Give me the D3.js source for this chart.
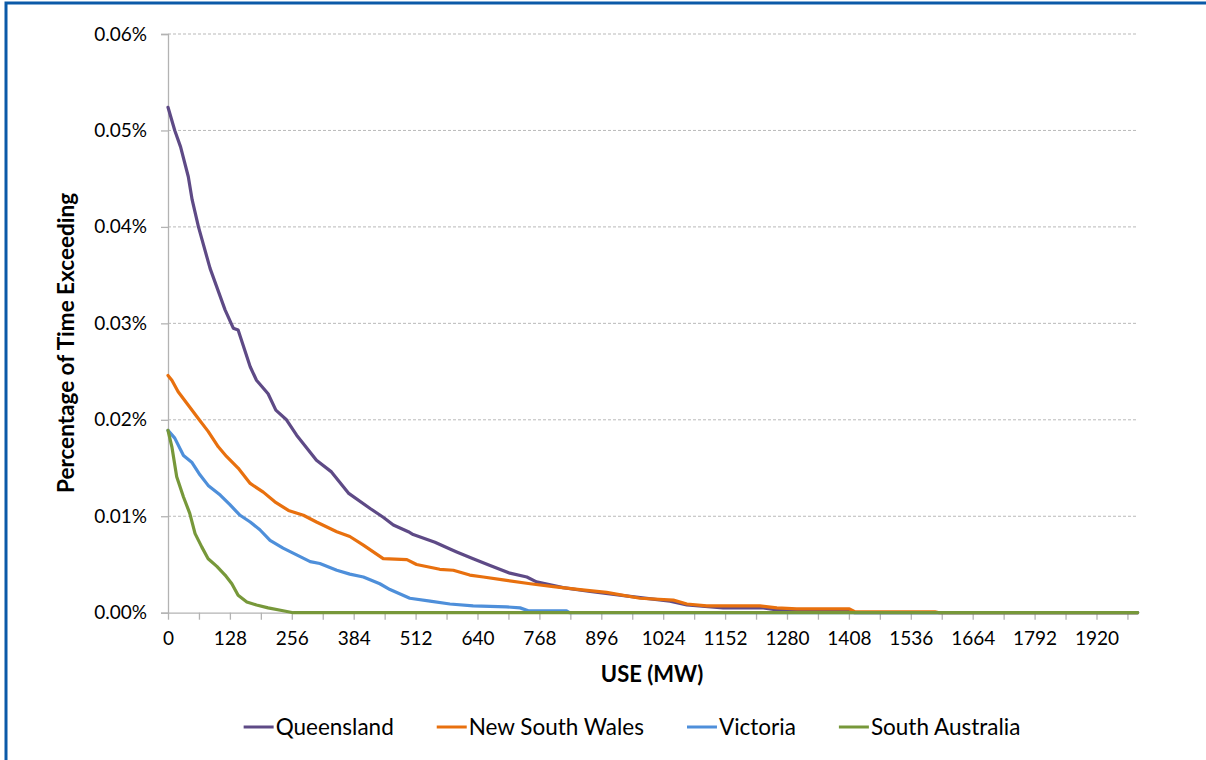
<!DOCTYPE html>
<html>
<head>
<meta charset="utf-8">
<script src="https://cdn.jsdelivr.net/npm/d3@7"></script>
<style>
  html, body { margin: 0; padding: 0; background: #fff; }
  svg { display: block; }
  text { font-family: Lato, "Open Sans", sans-serif; fill: #000; }
</style>
</head>
<body>
<script>
// Exceedance curves: share of time that usable energy (MW) is exceeded, by region
const regions = ["Queensland", "New South Wales", "Victoria", "South Australia"];
const regionColors = ["#5E4A86", "#E8700E", "#4E8FDA", "#77983A"];

const qldUse = [0, 14, 26, 42, 50, 63, 87, 118, 135, 145, 170, 183, 207, 223, 245, 266, 307, 338, 373, 418, 445, 466, 497, 507, 552, 583, 597, 631, 666, 707, 742, 762, 817, 873, 955, 1038, 1073, 1148, 1231, 1259, 1400, 1420, 2005];
const qldPct = [0.0524, 0.0500, 0.0483, 0.0452, 0.0428, 0.0400, 0.0357, 0.0314, 0.0295, 0.0293, 0.0255, 0.0241, 0.0227, 0.0210, 0.0200, 0.0184, 0.0158, 0.0146, 0.0124, 0.0108, 0.0099, 0.0091, 0.0084, 0.0081, 0.0073, 0.0066, 0.0063, 0.0056, 0.0049, 0.0041, 0.0037, 0.0032, 0.0026, 0.0022, 0.0017, 0.0012, 0.0008, 0.0005, 0.0005, 0.0003, 0.0002, 0, 0];

const nswUse = [0, 8, 21, 42, 63, 83, 104, 121, 145, 170, 197, 221, 249, 280, 307, 349, 376, 404, 445, 494, 514, 562, 590, 624, 652, 693, 749, 797, 852, 907, 976, 1045, 1073, 1114, 1224, 1259, 1300, 1409, 1420, 1586, 1595, 2005];
const nswPct = [0.0246, 0.0241, 0.0229, 0.0215, 0.0201, 0.0188, 0.0172, 0.0162, 0.0150, 0.0134, 0.0125, 0.0115, 0.0106, 0.0101, 0.0094, 0.0084, 0.0079, 0.0070, 0.0056, 0.0055, 0.0050, 0.0045, 0.0044, 0.0039, 0.0037, 0.0034, 0.0030, 0.0027, 0.0024, 0.0021, 0.0015, 0.0013, 0.0009, 0.0007, 0.0007, 0.0005, 0.0004, 0.0004, 0.0001, 0.0001, 0, 0];

const vicUse = [0, 14, 32, 49, 66, 83, 108, 128, 149, 170, 190, 211, 238, 266, 294, 314, 349, 376, 404, 438, 459, 500, 542, 583, 631, 700, 728, 745, 824, 830, 2005];
const vicPct = [0.0189, 0.0181, 0.0163, 0.0156, 0.0143, 0.0132, 0.0122, 0.0112, 0.0101, 0.0094, 0.0086, 0.0075, 0.0067, 0.0060, 0.0053, 0.0051, 0.0044, 0.0040, 0.0037, 0.0030, 0.0024, 0.0015, 0.0012, 0.0009, 0.0007, 0.0006, 0.0005, 0.0002, 0.0002, 0, 0];

const saUse = [0, 8, 18, 32, 45, 56, 70, 83, 101, 118, 132, 145, 163, 183, 207, 238, 259, 2005];
const saPct = [0.0189, 0.0172, 0.0141, 0.0120, 0.0103, 0.0082, 0.0068, 0.0056, 0.0048, 0.0039, 0.0030, 0.0018, 0.0011, 0.0008, 0.0005, 0.0002, 0, 0];

const xTickLabels = [0, 128, 256, 384, 512, 640, 768, 896, 1024, 1152, 1280, 1408, 1536, 1664, 1792, 1920];
const xMinorTicks = d3.range(0, 2005, 64);
const yTickValues = [0, 0.01, 0.02, 0.03, 0.04, 0.05, 0.06];

const seriesUse = [qldUse, nswUse, vicUse, saUse];
const seriesPct = [qldPct, nswPct, vicPct, saPct];

const W = 1206, H = 760;
const plot = { left: 168, right: 1137.6, top: 34, bottom: 612.7 };

const svg = d3.select("body").append("svg").attr("width", W).attr("height", H);

// outer frame (left and top edges show)
svg.append("rect").attr("x", 6).attr("y", 3).attr("width", W + 10).attr("height", H + 10)
  .attr("fill", "none").attr("stroke", "#0B5AA8").attr("stroke-width", 3);

const x = d3.scaleLinear().domain([0, 2005]).range([plot.left, plot.right]);
const y = d3.scaleLinear().domain([0, 0.06]).range([plot.bottom, plot.top]);

// horizontal dashed gridlines
svg.append("g").selectAll("line").data(yTickValues.filter(v => v > 0)).join("line")
  .attr("x1", plot.left).attr("x2", plot.right)
  .attr("y1", d => y(d)).attr("y2", d => y(d))
  .attr("stroke", "#b9b9b9").attr("stroke-width", 1).attr("stroke-dasharray", "3,2");

// y axis
const yAxis = svg.append("g").attr("transform", `translate(${plot.left},0)`)
  .call(d3.axisLeft(y).tickValues(yTickValues).tickSize(7).tickPadding(14)
    .tickFormat(d => d3.format(".2f")(d) + "%"));
yAxis.select(".domain").attr("stroke", "#b3b3b3").attr("stroke-width", 1.3);
yAxis.selectAll(".tick line").attr("stroke", "#b3b3b3").attr("stroke-width", 1.3);
yAxis.selectAll(".tick text").style("font-family", "Lato, sans-serif").style("font-size", "19px").attr("fill", "#000");

// x axis: minor ticks every 64, labels every 128
const xAxis = svg.append("g").attr("transform", `translate(0,${plot.bottom})`)
  .call(d3.axisBottom(x).tickValues(xMinorTicks).tickSize(7).tickSizeOuter(0)
    .tickFormat(d => xTickLabels.includes(d) ? d : ""));
xAxis.select(".domain").attr("stroke", "#b3b3b3").attr("stroke-width", 1.3);
xAxis.selectAll(".tick line").attr("stroke", "#b3b3b3").attr("stroke-width", 1.3);
xAxis.selectAll(".tick text").attr("dy", "1.05em").attr("y", 12)
  .style("font-family", "Lato, sans-serif").style("font-size", "19px").attr("fill", "#000");

// series lines
const line = d3.line().x(d => x(d[0])).y(d => y(d[1]));
const lines = svg.append("g");
regions.forEach((name, i) => {
  const pts = seriesUse[i].map((u, k) => [u, seriesPct[i][k]]);
  lines.append("path").datum(pts)
    .attr("d", line)
    .attr("fill", "none")
    .attr("stroke", regionColors[i])
    .attr("stroke-width", 3.2)
    .attr("stroke-linejoin", "round")
    .attr("stroke-linecap", "round");
});

// axis titles
svg.append("text").attr("x", 652).attr("y", 682).attr("text-anchor", "middle")
  .style("font-size", "22px").style("font-weight", "bold").text("USE (MW)");
svg.append("text").attr("transform", "translate(74,343) rotate(-90)").attr("text-anchor", "middle")
  .style("font-size", "22.5px").style("font-weight", "bold").text("Percentage of Time Exceeding");

// legend
const legend = svg.append("g");
const legendY = 727;
const items = regions.map((name, i) => {
  const g = legend.append("g");
  g.append("line").attr("x1", 0).attr("x2", 30).attr("y1", 0).attr("y2", 0)
    .attr("stroke", regionColors[i]).attr("stroke-width", 3);
  const t = g.append("text").attr("x", 32).attr("dy", "0.35em")
    .style("font-size", "22.5px").text(name);
  return { g, w: 32 + t.node().getComputedTextLength() };
});
const gap = 43;
const total = d3.sum(items, d => d.w) + gap * (items.length - 1);
let cx = 632 - total / 2;
items.forEach(it => {
  it.g.attr("transform", `translate(${cx},${legendY})`);
  cx += it.w + gap;
});
</script>
</body>
</html>
